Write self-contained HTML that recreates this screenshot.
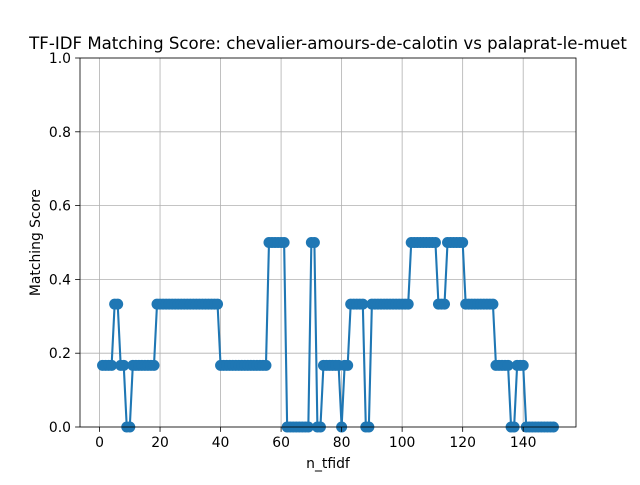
<!DOCTYPE html>
<html><head><meta charset="utf-8"><style>
body{margin:0;background:#fff;}
svg text{font-family:"DejaVu Sans","Liberation Sans",sans-serif;fill:#000;}
</style></head><body>
<svg id="chart" width="640" height="480" xmlns="http://www.w3.org/2000/svg">
<rect width="640" height="480" fill="#fff"/>
<g id="grid"></g>
<g id="series"></g>
<rect x="80" y="58" width="496" height="369" fill="none" stroke="#000" stroke-width="0.8"/>
<g id="axes"></g>
<text x="328" y="49" font-size="16.6" text-anchor="middle">TF-IDF Matching Score: chevalier-amours-de-calotin vs palaprat-le-muet</text>
<text x="328" y="468" font-size="13.9" text-anchor="middle">n_tfidf</text>
<text transform="translate(40,242.5) rotate(-90)" font-size="13.9" text-anchor="middle">Matching Score</text>
</svg>
<script>
const scores = [
0.167,0.167,0.167,0.167,0.333,0.333,0.167,0.167,0,0,
0.167,0.167,0.167,0.167,0.167,0.167,0.167,0.167,
0.333,0.333,0.333,0.333,0.333,0.333,0.333,0.333,0.333,0.333,0.333,0.333,0.333,0.333,0.333,0.333,0.333,0.333,0.333,0.333,0.333,
0.167,0.167,0.167,0.167,0.167,0.167,0.167,0.167,0.167,0.167,0.167,0.167,0.167,0.167,0.167,0.167,
0.5,0.5,0.5,0.5,0.5,0.5,
0,0,0,0,0,0,0,0,
0.5,0.5,0,0,
0.167,0.167,0.167,0.167,0.167,0.167,0,0.167,0.167,
0.333,0.333,0.333,0.333,0.333,0,0,
0.333,0.333,0.333,0.333,0.333,0.333,0.333,0.333,0.333,0.333,0.333,0.333,0.333,
0.5,0.5,0.5,0.5,0.5,0.5,0.5,0.5,0.5,
0.333,0.333,0.333,
0.5,0.5,0.5,0.5,0.5,0.5,
0.333,0.333,0.333,0.333,0.333,0.333,0.333,0.333,0.333,0.333,
0.167,0.167,0.167,0.167,0.167,0,0,0.167,0.167,0.167,
0,0,0,0,0,0,0,0,0,0];
const nStart = 1;
const xTicks = [0,20,40,60,80,100,120,140];
const yTicks = [0,0.2,0.4,0.6,0.8,1.0];
const yTickLabels = ["0.0","0.2","0.4","0.6","0.8","1.0"];

const NS="http://www.w3.org/2000/svg";
const X0=80,X1=576,Y0=427,Y1=58;
const xmin=1-0.05*149, xmax=150+0.05*149;
function sx(v){return X0+(v-xmin)/(xmax-xmin)*(X1-X0);}
function sy(v){return Y0-(v-0)/(1-0)*(Y0-Y1);}
function mk(tag,attrs,parent){const e=document.createElementNS(NS,tag);for(const k in attrs)e.setAttribute(k,attrs[k]);parent.appendChild(e);return e;}
const grid=document.getElementById('grid'),axes=document.getElementById('axes'),series=document.getElementById('series');
xTicks.forEach(t=>{
  const x=sx(t);
  const g=mk('line',{x1:x,x2:x,y1:Y1,y2:Y0,stroke:'#b0b0b0','stroke-width':0.8},grid);
  
  
  const tk=mk('line',{x1:x,x2:x,y1:Y0,y2:Y0+4.9,stroke:'#000','stroke-width':0.8},axes);
  
  
  const tx=mk('text',{x:x,y:Y0+20,'font-size':13.9,'text-anchor':'middle'},axes);
  tx.textContent=t;
  
  
});
yTicks.forEach((t,i)=>{
  const y=sy(t);
  const g=mk('line',{x1:X0,x2:X1,y1:y,y2:y,stroke:'#b0b0b0','stroke-width':0.8},grid);
  
  
  const tk=mk('line',{x1:X0-4.9,x2:X0,y1:y,y2:y,stroke:'#000','stroke-width':0.8},axes);
  
  
  const tx=mk('text',{x:X0-9,y:y+5,'font-size':13.9,'text-anchor':'end'},axes);
  tx.textContent=yTickLabels[i];
  
  
});
const pts=scores.map((v,i)=>sx(nStart+i).toFixed(2)+','+sy(v).toFixed(2)).join(' ');
const line=mk('polyline',{points:pts,fill:'none',stroke:'#1f77b4','stroke-width':2.1},series);


scores.forEach((v,i)=>{
  const c=mk('circle',{cx:sx(nStart+i),cy:sy(v),r:5.5,fill:'#1f77b4'},series);
  
  
});
</script>
</body></html>
